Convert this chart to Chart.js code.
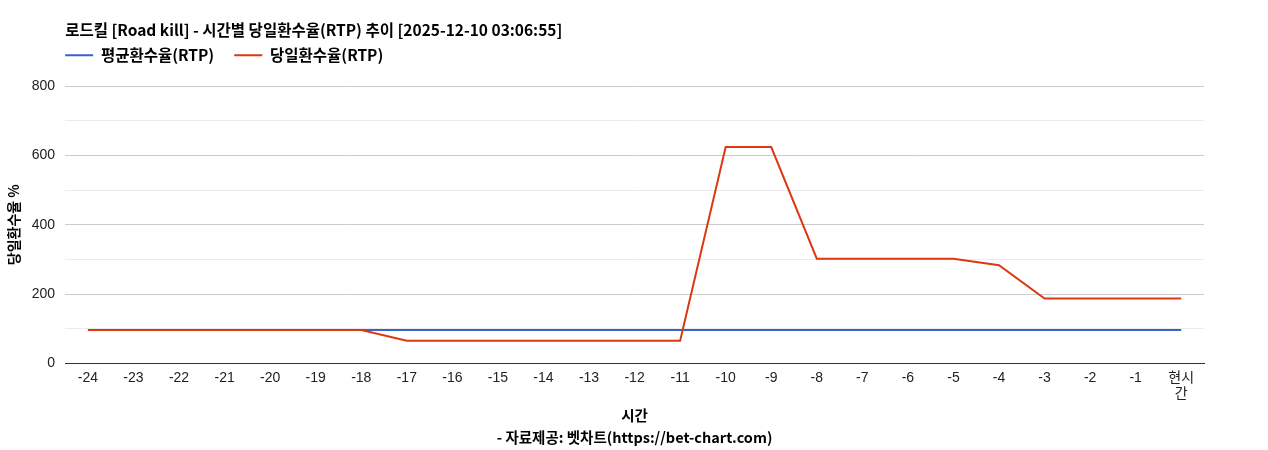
<!DOCTYPE html>
<html>
<head>
<meta charset="utf-8">
<script src="https://cdn.jsdelivr.net/npm/chart.js@4.4.1/dist/chart.umd.min.js"></script>
<style>
  html, body { margin: 0; padding: 0; background: #fff; }
  #wrap { width: 1268px; height: 450px; }
</style>
</head>
<body>
<div id="wrap"><canvas id="rtpChart"></canvas></div>
<script>
// 시간 라벨 (마지막은 두 줄)
const hours = ['-24','-23','-22','-21','-20','-19','-18','-17','-16','-15','-14','-13','-12',
               '-11','-10','-9','-8','-7','-6','-5','-4','-3','-2','-1',['현시','간']];
// 평균환수율
const avgRtp = [96,96,96,96,96,96,96,96,96,96,96,96,96,96,96,96,96,96,96,96,96,96,96,96,96];
// 당일환수율
const dayRtp = [96,96,96,96,96,96,96,65,65,65,65,65,65,65,624,624,302,302,302,302,283,187,187,187,187];

const fontKr = "'Noto Sans CJK KR', 'Liberation Sans', sans-serif";
const fontTick = "'Liberation Sans', 'Noto Sans CJK KR', sans-serif";

// 범례를 차트 영역 왼쪽 끝에 맞추고 제목 바로 아래로 올림
const legendShift = {
    id: 'legendShift',
    afterLayout(chart) {
        const lg = chart.legend;
        if (!lg) return;
        const dx = lg.options.labels.padding;
        const dy = 13;
        lg.left -= dx; lg.right -= dx;
        lg.top -= dy; lg.bottom -= dy;
    }
};

const ctx = document.getElementById('rtpChart').getContext('2d');
new Chart(ctx, {
    type: 'line',
    data: {
        labels: hours,
        datasets: [{
            label: '평균환수율(RTP)',
            data: avgRtp,
            borderColor: '#3366cc',
            backgroundColor: '#3366cc',
            borderWidth: 2,
            pointRadius: 0,
            tension: 0,
            order: 1
        }, {
            label: '당일환수율(RTP)',
            data: dayRtp,
            borderColor: '#dc3912',
            backgroundColor: '#dc3912',
            borderWidth: 2,
            pointRadius: 0,
            tension: 0,
            order: 0 // 빨간 선이 위에 그려지도록
        }]
    },
    options: {
        responsive: true,
        maintainAspectRatio: false,
        animation: false,
        layout: { padding: { left: 5, right: 64, top: 10, bottom: 1 } },
        plugins: {
            title: {
                display: true,
                text: '로드킬 [Road kill] - 시간별 당일환수율(RTP) 추이 [2025-12-10 03:06:55]',
                align: 'start',
                fullSize: false,
                color: '#000',
                font: { family: fontKr, size: 15.5, weight: 'bold' },
                padding: { top: 11, bottom: 1 }
            },
            legend: {
                align: 'start',
                fullSize: false,
                labels: {
                    boxWidth: 28,
                    boxHeight: 0,
                    color: '#000',
                    font: { family: fontKr, size: 15.5, weight: 'bold' },
                    padding: 20,
                    sort: (a, b) => a.datasetIndex - b.datasetIndex
                }
            },
            tooltip: { enabled: false }
        },
        scales: {
            x: {
                offset: true,
                grid: { display: true, drawOnChartArea: false, drawTicks: false },
                border: { display: true, color: '#333', width: 1 },
                ticks: {
                    color: '#222',
                    font: { family: fontTick, size: 14 },
                    maxRotation: 0,
                    autoSkip: false,
                    padding: 6
                },
                title: {
                    display: true,
                    text: ['시간', '- 자료제공: 벳차트(https://bet-chart.com)'],
                    color: '#000',
                    font: { family: fontKr, size: 14.5, weight: 'bold', lineHeight: 1.52 },
                    padding: { top: -4, bottom: 0 }
                }
            },
            y: {
                min: 0,
                max: 800,
                border: { display: false },
                grid: {
                    drawTicks: false,
                    color: function(c) {
                        return c.tick.value % 200 === 0 ? '#cccccc' : '#ebebeb';
                    }
                },
                ticks: {
                    stepSize: 100,
                    color: '#222',
                    font: { family: fontTick, size: 14 },
                    padding: 10,
                    callback: function(v) { return v % 200 === 0 ? v : ''; }
                },
                title: {
                    display: true,
                    text: '당일환수율 %',
                    color: '#000',
                    font: { family: fontKr, size: 14, weight: 'bold' },
                    padding: 0
                }
            }
        }
    },
    plugins: [legendShift]
});
</script>
</body>
</html>
